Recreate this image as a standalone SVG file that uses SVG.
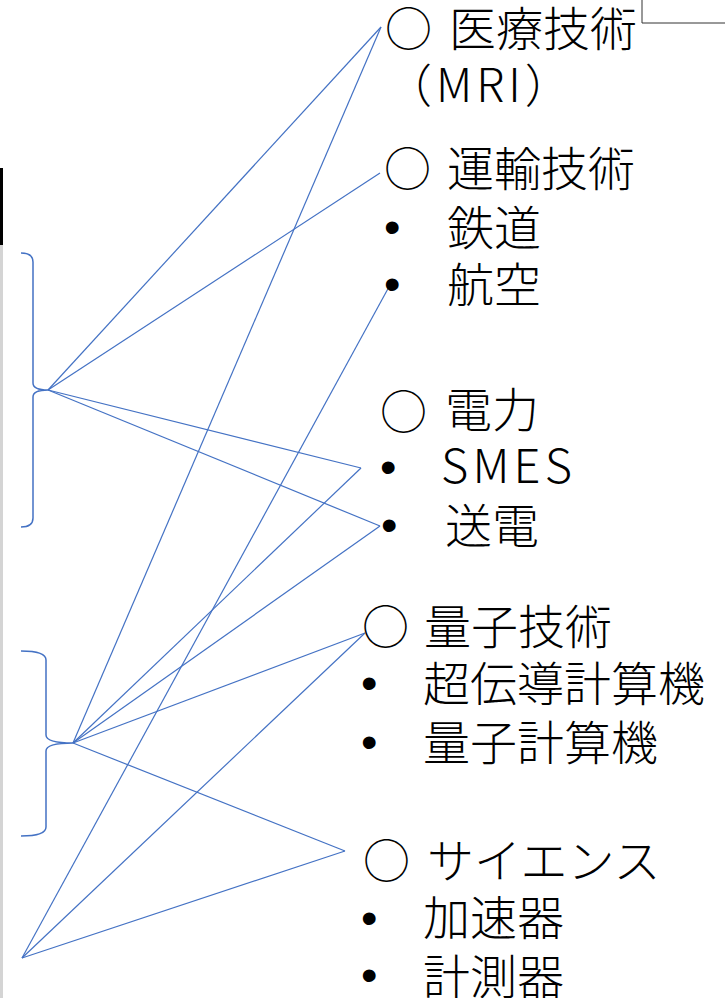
<svg xmlns="http://www.w3.org/2000/svg" width="725" height="998" viewBox="0 0 725 998">
<style>
.t{font-family:"Noto Sans CJK JP","Noto Sans",sans-serif;font-size:47px;font-weight:300;fill:#000}
.b{font-family:"Liberation Sans",Arial,sans-serif;font-size:47px;fill:#000}
.c{fill:none;stroke:#4472C4;stroke-width:1.2}
.br{fill:none;stroke:#4472C4;stroke-width:1.5}
</style>
<rect x="0" y="245" width="3" height="753" fill="#d4d4d4"/>
<rect x="0" y="168" width="3" height="77" fill="#000"/>
<path d="M642,0 V23 H725" fill="none" stroke="#333" stroke-width="1"/>
<g id="brace1"><path class="br" d="M21,253 Q33,253 33,262 L33,383 Q33,390 48,390 Q33,390 33,397 L33,518 Q33,527 21,527"/></g>
<g id="brace2"><path class="br" d="M21,651 Q46,651 46,660 L46,735 Q46,743 73,743 Q46,743 46,751 L46,827 Q46,836 21,836"/></g>
<g id="connectors">
<line class="c" x1="48" y1="390" x2="381" y2="27"/>
<line class="c" x1="48" y1="390" x2="380" y2="173"/>
<line class="c" x1="48" y1="390" x2="361" y2="468"/>
<line class="c" x1="48" y1="390" x2="380" y2="526"/>
<line class="c" x1="73" y1="743" x2="381" y2="27"/>
<line class="c" x1="73" y1="743" x2="361" y2="468"/>
<line class="c" x1="73" y1="743" x2="380" y2="526"/>
<line class="c" x1="73" y1="743" x2="365" y2="633"/>
<line class="c" x1="73" y1="743" x2="345" y2="851"/>
<line class="c" x1="22" y1="958" x2="390" y2="285"/>
<line class="c" x1="22" y1="958" x2="365" y2="633"/>
<line class="c" x1="22" y1="958" x2="345" y2="851"/>
</g>
<g id="medical">
<text class="t" x="385" y="46">○</text><text class="t" x="449" y="46">医療技術</text>
<text class="t" x="386" y="102" style="font-size:46px;letter-spacing:4px">（MRI）</text>
</g>
<g id="transport">
<text class="t" x="384" y="186">○</text><text class="t" x="447" y="186">運輸技術</text>
<text class="b" x="384" y="243">•</text><text class="t" x="447" y="245">鉄道</text>
<text class="b" x="384" y="300">•</text><text class="t" x="447" y="302">航空</text>
</g>
<g id="power">
<text class="t" x="380" y="429">○</text><text class="t" x="445" y="427">電力</text>
<text class="b" x="380" y="483">•</text><text class="t" x="441" y="483" textLength="131" lengthAdjust="spacing">SMES</text>
<text class="b" x="381" y="541">•</text><text class="t" x="445" y="543">送電</text>
</g>
<g id="quantum">
<text class="t" x="362" y="644">○</text><text class="t" x="424" y="644">量子技術</text>
<text class="b" x="361" y="699">•</text><text class="t" x="423" y="701">超伝導計算機</text>
<text class="b" x="361" y="758">•</text><text class="t" x="423" y="760">量子計算機</text>
</g>
<g id="science">
<text class="t" x="363" y="878">○</text><text class="t" x="427" y="878">サイエンス</text>
<text class="b" x="361" y="934">•</text><text class="t" x="423" y="935">加速器</text>
<text class="b" x="361" y="991">•</text><text class="t" x="423" y="994">計測器</text>
</g>
</svg>
